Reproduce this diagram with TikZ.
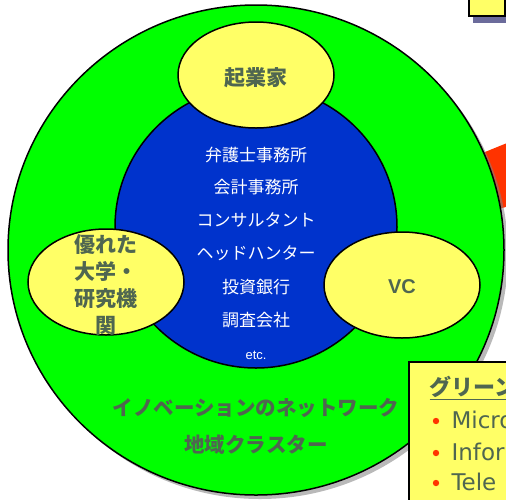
\documentclass[tikz,border=0pt]{standalone}
\usepackage{fontspec}
\setmainfont{Noto Sans CJK JP}
\newfontfamily\latinfont{Liberation Sans}
\newfontfamily\bulletfont{DejaVu Sans}
\usepackage{tikz}
\usetikzlibrary{shapes.geometric}
\definecolor{ringgreen}{HTML}{00FF00}
\definecolor{coreblue}{HTML}{0033CC}
\definecolor{padyellow}{HTML}{FFFF66}
\definecolor{labelgray}{HTML}{4F6650}
\definecolor{arrowred}{HTML}{FF3300}
\definecolor{shadowblue}{HTML}{6B6B9B}
\tikzset{
	player/.style={ellipse,draw,line width=1.5pt,fill=padyellow,minimum width=156pt,minimum height=106pt,inner sep=0pt},
	playertext/.style={text=labelgray,font=\fontsize{21}{27}\selectfont\bfseries,align=center},
	coretext/.style={text=white,font=\fontsize{17}{17}\selectfont},
	ringtext/.style={text=labelgray,font=\fontsize{20.5}{20.5}\selectfont\bfseries},
	itemtext/.style={text=labelgray,font=\bulletfont\fontsize{23}{23}\selectfont,anchor=west}
}
\begin{document}
\begin{tikzpicture}[x=1pt,y=-1pt]
	\useasboundingbox (0,0) rectangle (506,499);
	\clip (0,0) rectangle (506,499);
	\fill[shadowblue] (473,16) rectangle (510,23);
	\draw[fill=padyellow,line width=1.2pt] (469,-5) rectangle (505,16);
	\fill[arrowred] (480,154)--(512,141)--(512,205)--(480,215)--cycle;
	\fill[gray,opacity=0.55] (260,254) ellipse [x radius=248pt,y radius=245pt];
	\draw[fill=ringgreen,line width=1.5pt] (256,250) ellipse [x radius=248pt,y radius=245pt];
	\draw[fill=coreblue,line width=1.5pt] (256,227) circle [radius=141pt];
	\node[player] (founder) at (256,75) {};
	\node[player] (univ) at (106,282) {};
	\node[player] (vc) at (402,285) {};
	\node[playertext] at (256,78) {起業家};
	\node[playertext] at (106,285) {優れた\\大学・\\研究機\\関};
	\node[playertext,font=\latinfont\fontsize{20}{20}\selectfont\bfseries] at (402,287) {VC};
	\node[coretext] at (256,155) {弁護士事務所};
	\node[coretext] at (256,187) {会計事務所};
	\node[coretext] at (256,220) {コンサルタント};
	\node[coretext] at (256,253) {ヘッドハンター};
	\node[coretext] at (256,287) {投資銀行};
	\node[coretext] at (256,320) {調査会社};
	\node[coretext,font=\latinfont\fontsize{13}{13}\selectfont] at (256,355) {etc.};
	\node[ringtext] at (256,408) {イノベーションのネットワーク};
	\node[ringtext] at (256,445) {地域クラスター};
	\draw[fill=padyellow,line width=1.2pt] (409,362) rectangle (530,520);
	\node[text=labelgray,font=\fontsize{22}{22}\selectfont\bfseries,anchor=west] (green) at (426,388) {\underline{グリーン}};
	\fill[arrowred] (436,421) circle [radius=3.2pt];
	\fill[arrowred] (436,453) circle [radius=3.2pt];
	\fill[arrowred] (436,483) circle [radius=3.2pt];
	\node[itemtext] (micro) at (448,420) {Micro};
	\node[itemtext] (infor) at (448,452) {Infor};
	\node[itemtext] (tele) at (448,482) {Tele};
\end{tikzpicture}
\end{document}
